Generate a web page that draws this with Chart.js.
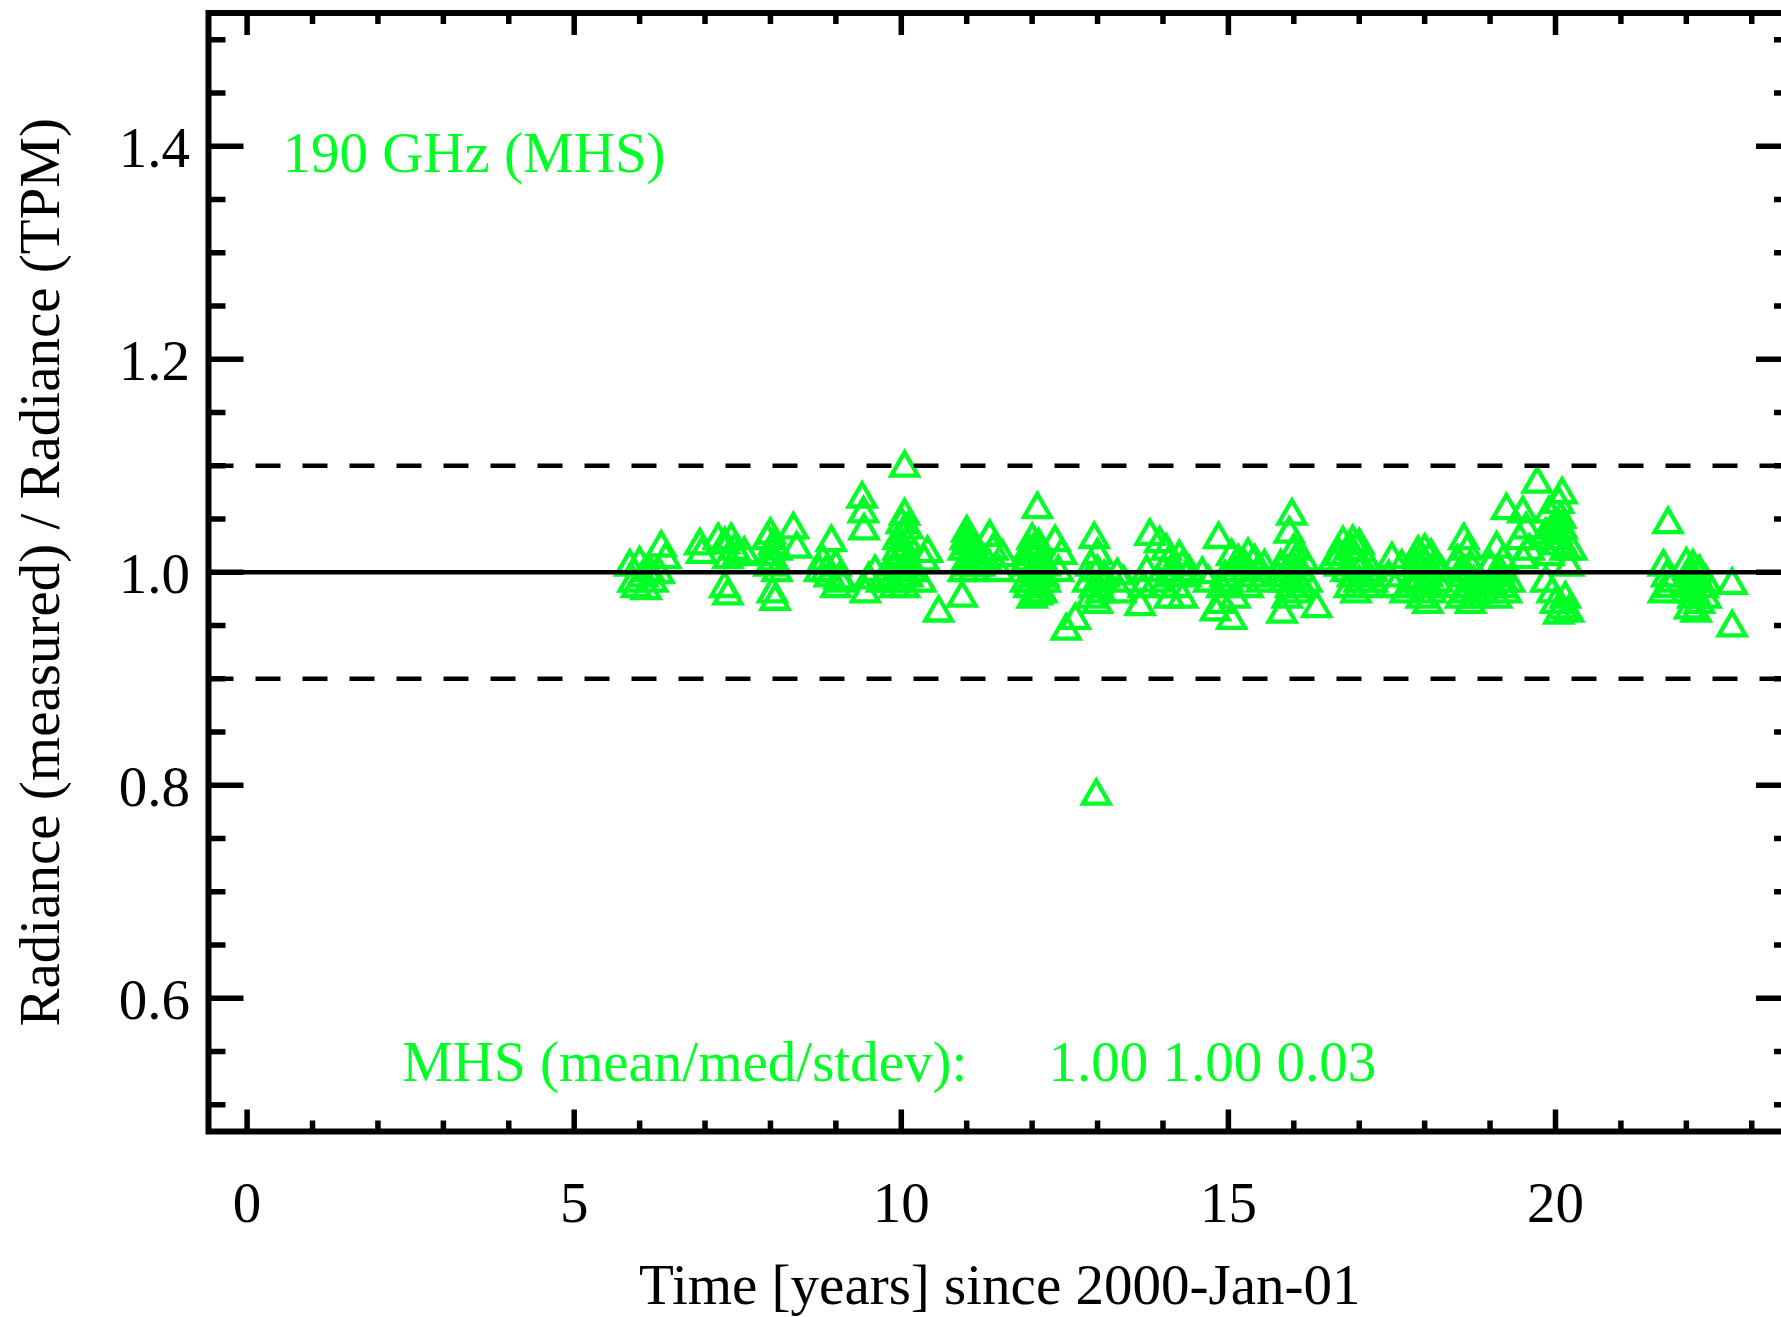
<!DOCTYPE html>
<html>
<head>
<meta charset="utf-8">
<script src="https://cdn.jsdelivr.net/npm/chart.js@4/dist/chart.umd.min.js"></script>
<style>
  html, body { margin: 0; padding: 0; overflow: hidden; background: #ffffff; }
  #c { position: absolute; left: 0; top: 0; }
</style>
</head>
<body>
<canvas id="c" width="1800" height="1317"></canvas>
<script>
// Time since 2000-01-01 [years] of each MHS 190 GHz measurement
const years = [
  5.85, 5.90, 5.95, 6.00, 6.05, 6.10, 6.15, 6.20,
  6.30, 6.33, 6.40,
  6.92, 6.95,
  7.20, 7.30, 7.40, 7.45, 7.35, 7.30, 7.35, 7.50,
  7.60,
  7.95, 8.00, 8.05, 8.00, 8.10, 8.05, 7.98, 8.10, 8.03, 8.07,
  8.35, 8.40,
  8.93, 8.80, 8.85, 8.90, 9.00, 9.05, 9.00, 8.75, 9.10,
  9.40, 9.42, 9.43, 9.45, 9.50,
  10.05, 10.00, 10.02, 10.08, 9.95, 10.00, 10.10, 9.90, 9.80, 9.75, 9.85, 9.90, 10.00, 10.05, 10.10, 10.15, 9.70, 9.60, 10.05,
  9.95, 10.05, 10.10, 9.98, 10.03, 10.12,
  10.40, 10.35, 10.30, 10.57,
  10.93, 11.00, 11.05, 11.10, 10.95, 11.00, 11.05, 11.10, 11.15, 10.95, 11.20,
  11.02, 11.08, 10.98, 11.12,
  11.35, 11.40, 11.30, 11.55, 11.50,
  12.08, 12.00, 12.10, 11.95, 12.05, 12.15, 11.90, 12.00, 12.10, 12.20, 11.95, 12.05, 12.15, 11.90, 12.20, 12.00, 12.10,
  12.02, 12.12, 11.98, 12.08, 12.18, 11.92,
  12.35, 12.45, 12.40, 12.52, 12.66,
  12.95, 13.00, 12.90, 13.00, 12.85, 12.95, 13.05, 12.90, 13.10, 13.00, 12.98,
  13.30, 13.40, 13.35, 13.65, 13.70, 13.75, 13.80,
  13.95, 14.05, 14.10, 14.00, 13.90, 14.00, 14.15, 14.10,
  14.25, 14.30, 14.35, 14.20, 14.40, 14.30,
  14.60, 14.70, 14.85, 14.80, 15.05, 14.90, 15.00, 15.10, 14.95, 15.15, 15.05, 15.20, 15.10, 14.90,
  15.30, 15.25, 15.40, 15.45, 15.35, 15.50, 15.55, 15.30,
  15.97, 15.93, 16.00, 15.80, 15.90, 16.00, 16.10, 15.85, 15.95, 16.05, 15.90, 16.10, 15.75, 16.15, 16.20, 15.82, 16.35,
  15.98, 16.08, 16.02,
  16.75, 16.90, 17.00, 16.60, 16.70, 16.80, 16.90, 17.00, 17.10, 17.20, 16.85, 17.00, 17.10, 16.95, 17.20, 16.70,
  16.95, 17.05, 16.88,
  17.50, 17.55, 17.45, 17.65, 17.70,
  17.90, 18.00, 18.10, 17.85, 17.95, 18.05, 18.15, 17.90, 18.00, 18.10, 17.95, 18.05, 18.20, 18.25, 17.80,
  17.98, 18.08, 18.02,
  18.60, 18.65, 18.50, 18.55, 18.70, 18.60, 18.75, 18.50, 18.65, 18.80, 18.70, 18.90, 18.85, 18.55,
  18.68, 18.62, 18.78,
  19.10, 19.00, 19.15, 19.20, 19.05, 19.25, 19.10, 19.30, 19.20, 19.25,
  19.12, 19.18,
  19.50, 19.55, 19.45, 19.60, 19.50, 19.72,
  20.10, 20.05, 19.90, 20.00, 20.10, 19.85, 19.95, 20.05, 20.15, 19.90, 20.20, 19.85, 19.95, 20.00, 20.10, 20.15, 20.20, 20.05, 20.25,
  20.02, 20.08, 19.98,
  21.72, 21.65, 21.70, 21.75, 21.65, 21.80,
  22.00, 22.10, 22.20, 22.05, 22.15, 22.25, 22.00, 22.10, 22.20, 22.05, 22.15, 22.30, 22.30,
  22.12, 22.08,
  22.70, 22.70
];

// Radiance (measured) / Radiance (TPM) for each measurement
const ratio = [
  1.005, 0.990, 0.985, 1.008, 0.995, 0.983, 1.000, 0.990,
  0.998, 1.023, 1.012,
  1.025, 1.017,
  1.030, 1.026, 1.030, 1.020, 1.012, 0.985, 0.978, 1.015,
  1.017,
  1.030, 1.035, 1.025, 1.015, 1.020, 1.010, 1.005, 1.000, 0.980, 0.973,
  1.040, 1.022,
  1.028, 1.010, 1.000, 0.995, 1.005, 0.993, 0.985, 1.000, 0.990,
  1.069, 1.055, 1.039, 0.980, 0.993,
  1.053, 1.045, 1.035, 1.028, 1.020, 1.015, 1.010, 1.005, 1.000, 0.995, 0.990, 0.985, 0.990, 0.985, 0.995, 1.000, 0.990, 1.000, 1.098,
  1.030, 1.020, 1.040, 1.000, 0.995, 1.005,
  1.018, 1.010, 0.990, 0.962,
  0.976, 1.037, 1.030, 1.025, 1.020, 1.010, 1.005, 1.000, 1.015, 1.000, 1.005,
  1.025, 1.015, 1.030, 1.008,
  1.033, 1.020, 1.010, 1.014, 1.000,
  1.059, 1.030, 1.025, 1.020, 1.015, 1.010, 1.005, 1.000, 0.995, 0.990, 0.985, 0.980, 0.980, 0.990, 1.005, 0.975, 0.985,
  1.020, 1.000, 0.990, 0.978, 0.995, 1.010,
  1.028, 1.016, 1.000, 0.945, 0.955,
  1.031, 1.016, 1.005, 1.000, 0.990, 0.985, 0.980, 0.975, 0.995, 0.970, 0.790,
  0.997, 0.990, 0.980, 0.968, 0.985, 1.000, 1.034,
  1.027, 1.020, 1.010, 1.000, 0.990, 0.985, 0.995, 0.975,
  1.014, 1.005, 0.995, 0.985, 1.000, 0.975,
  0.998, 0.990, 1.031, 0.963, 0.955, 0.985, 0.990, 1.000, 0.995, 1.010, 1.015, 1.005, 0.975, 0.970,
  1.016, 1.005, 1.010, 1.000, 0.995, 0.990, 1.005, 0.985,
  1.053, 1.036, 1.020, 1.005, 1.000, 0.995, 1.000, 0.990, 0.985, 0.980, 0.975, 0.985, 0.995, 1.010, 0.990, 0.961, 0.966,
  1.005, 0.990, 1.010,
  1.027, 1.028, 1.025, 1.010, 1.005, 1.000, 0.995, 1.000, 1.010, 1.000, 0.985, 0.990, 0.985, 0.980, 0.990, 1.015,
  1.010, 1.005, 1.020,
  1.012, 0.985, 0.995, 1.005, 0.980,
  1.018, 1.020, 1.015, 1.005, 1.000, 0.995, 1.005, 0.990, 0.985, 0.980, 0.975, 0.970, 0.990, 1.000, 0.985,
  1.010, 1.000, 0.990,
  1.030, 1.020, 1.010, 1.000, 1.005, 0.995, 0.990, 0.985, 0.980, 0.975, 0.970, 0.980, 0.990, 0.975,
  0.985, 1.000, 0.980,
  1.022, 1.005, 1.000, 0.990, 0.985, 0.980, 0.975, 0.990, 1.010, 1.058,
  0.995, 0.985,
  1.055, 1.040, 1.030, 1.020, 1.012, 1.083,
  1.073, 1.064, 1.055, 1.045, 1.040, 1.035, 1.030, 1.025, 1.020, 1.015, 1.005, 0.990, 0.980, 0.970, 0.965, 0.975, 0.962, 0.960, 1.020,
  1.035, 1.050, 1.040,
  1.045, 1.005, 0.995, 0.985, 0.980, 0.990,
  1.007, 1.005, 1.000, 0.995, 0.990, 0.985, 0.980, 0.975, 0.970, 0.965, 0.962, 0.975, 0.990,
  0.980, 0.990,
  0.988, 0.948
];

// Axis ticks and labels
const xTickValues = [0, 5, 10, 15, 20];
const yTickValues = [0.6, 0.8, 1.0, 1.2, 1.4];
const xRange = [-0.59, 23.6];
const yRange = [0.475, 1.525];

// Unity ratio and the +/-10% band
const refLevels = [0.9, 1.0, 1.1];

// Text drawn inside the plot
const bandLabel = '190 GHz (MHS)';
const statsLabel = 'MHS (mean/med/stdev):';
const statsValues = [1.00, 1.00, 0.03];

const GREEN = 'rgb(0,255,36)';
const FONT = 'Liberation Serif';

const points = years.map((t, i) => ({ x: t, y: ratio[i] }));

const refDatasets = refLevels.map(level => ({
  type: 'line',
  data: [{ x: xRange[0], y: level }, { x: xRange[1], y: level }],
  borderColor: '#000',
  borderWidth: 4.5,
  borderDash: level === 1.0 ? [] : [25, 22],
  pointRadius: 0,
  order: 0
}));

// Frame with inward major/minor ticks on all four sides, plus in-plot text
const framePlugin = {
  id: 'frame',
  afterDatasetsDraw(chart) {
    const { ctx, chartArea: a, scales: { x, y } } = chart;
    ctx.save();

    // in-plot text
    ctx.fillStyle = GREEN;
    ctx.font = '57px "' + FONT + '"';
    ctx.textBaseline = 'alphabetic';
    ctx.textAlign = 'left';
    ctx.fillText(bandLabel, x.getPixelForValue(0.54), y.getPixelForValue(1.3756));
    ctx.fillText(statsLabel, x.getPixelForValue(2.37), y.getPixelForValue(0.5227));
    ctx.fillText(statsValues.map(v => v.toFixed(2)).join(' '),
                 x.getPixelForValue(12.25), y.getPixelForValue(0.5227));

    ctx.strokeStyle = '#000';
    ctx.lineCap = 'butt';
    ctx.lineWidth = 6;
    ctx.strokeRect(a.left, a.top, a.right - a.left, a.bottom - a.top);

    ctx.lineWidth = 5.5;
    ctx.beginPath();
    // y ticks (left and right)
    for (let k = Math.ceil(yRange[0] / 0.05); k * 0.05 <= yRange[1] + 1e-9; k++) {
      const v = Math.round(k * 5) / 100;
      const major = yTickValues.some(t => Math.abs(t - v) < 1e-6);
      const len = major ? 35 : 17;
      const py = y.getPixelForValue(v);
      ctx.moveTo(a.left, py); ctx.lineTo(a.left + len, py);
      ctx.moveTo(a.right, py); ctx.lineTo(a.right - len, py);
    }
    // x ticks (bottom and top)
    for (let v = Math.ceil(xRange[0]); v <= xRange[1]; v++) {
      const major = xTickValues.includes(v);
      const len = major ? 22 : 11;
      const px = x.getPixelForValue(v);
      ctx.moveTo(px, a.bottom); ctx.lineTo(px, a.bottom - len);
      ctx.moveTo(px, a.top); ctx.lineTo(px, a.top + len);
    }
    ctx.stroke();
    ctx.restore();
  }
};

new Chart(document.getElementById('c'), {
  type: 'scatter',
  data: {
    datasets: [
      ...refDatasets,
      {
        type: 'scatter',
        data: points,
        showLine: false,
        pointStyle: 'triangle',
        pointRadius: 15.5,
        pointBorderWidth: 4.3,
        pointBorderColor: GREEN,
        pointBackgroundColor: 'rgba(0,0,0,0)',
        order: 1
      }
    ]
  },
  options: {
    responsive: false,
    animation: false,
    events: [],
    layout: { autoPadding: false, padding: { left: 0, top: 13, right: 9, bottom: 0 } },
    plugins: { legend: { display: false }, tooltip: { enabled: false } },
    scales: {
      x: {
        type: 'linear',
        min: xRange[0],
        max: xRange[1],
        grid: { display: false, drawTicks: false },
        border: { display: false },
        afterBuildTicks: s => { s.ticks = xTickValues.map(v => ({ value: v })); },
        afterFit: s => {
          s.height = 185.5;
          s.paddingLeft = 0; s.paddingRight = 0; s.paddingTop = 0; s.paddingBottom = 0;
        },
        ticks: {
          color: '#000',
          font: { family: FONT, size: 57 },
          padding: 41,
          maxRotation: 0,
          autoSkip: false,
          callback: v => String(v)
        },
        title: {
          display: true,
          text: 'Time [years] since 2000-Jan-01',
          color: '#000',
          font: { family: FONT, size: 57, lineHeight: 1 },
          padding: { top: 0, bottom: -1 }
        }
      },
      y: {
        type: 'linear',
        min: yRange[0],
        max: yRange[1],
        grid: { display: false, drawTicks: false },
        border: { display: false },
        afterBuildTicks: s => { s.ticks = yTickValues.map(v => ({ value: v })); },
        afterFit: s => {
          s.width = 208.5;
          s.paddingLeft = 0; s.paddingRight = 0; s.paddingTop = 0; s.paddingBottom = 0;
        },
        ticks: {
          color: '#000',
          font: { family: FONT, size: 57 },
          padding: 18.5,
          labelOffset: 6,
          autoSkip: false,
          callback: v => v.toFixed(1)
        },
        title: {
          display: true,
          text: 'Radiance (measured) / Radiance (TPM)',
          color: '#000',
          font: { family: FONT, size: 57, lineHeight: 1 },
          padding: { top: 15.5, bottom: 0 }
        }
      }
    }
  },
  plugins: [framePlugin]
});
</script>
</body>
</html>
